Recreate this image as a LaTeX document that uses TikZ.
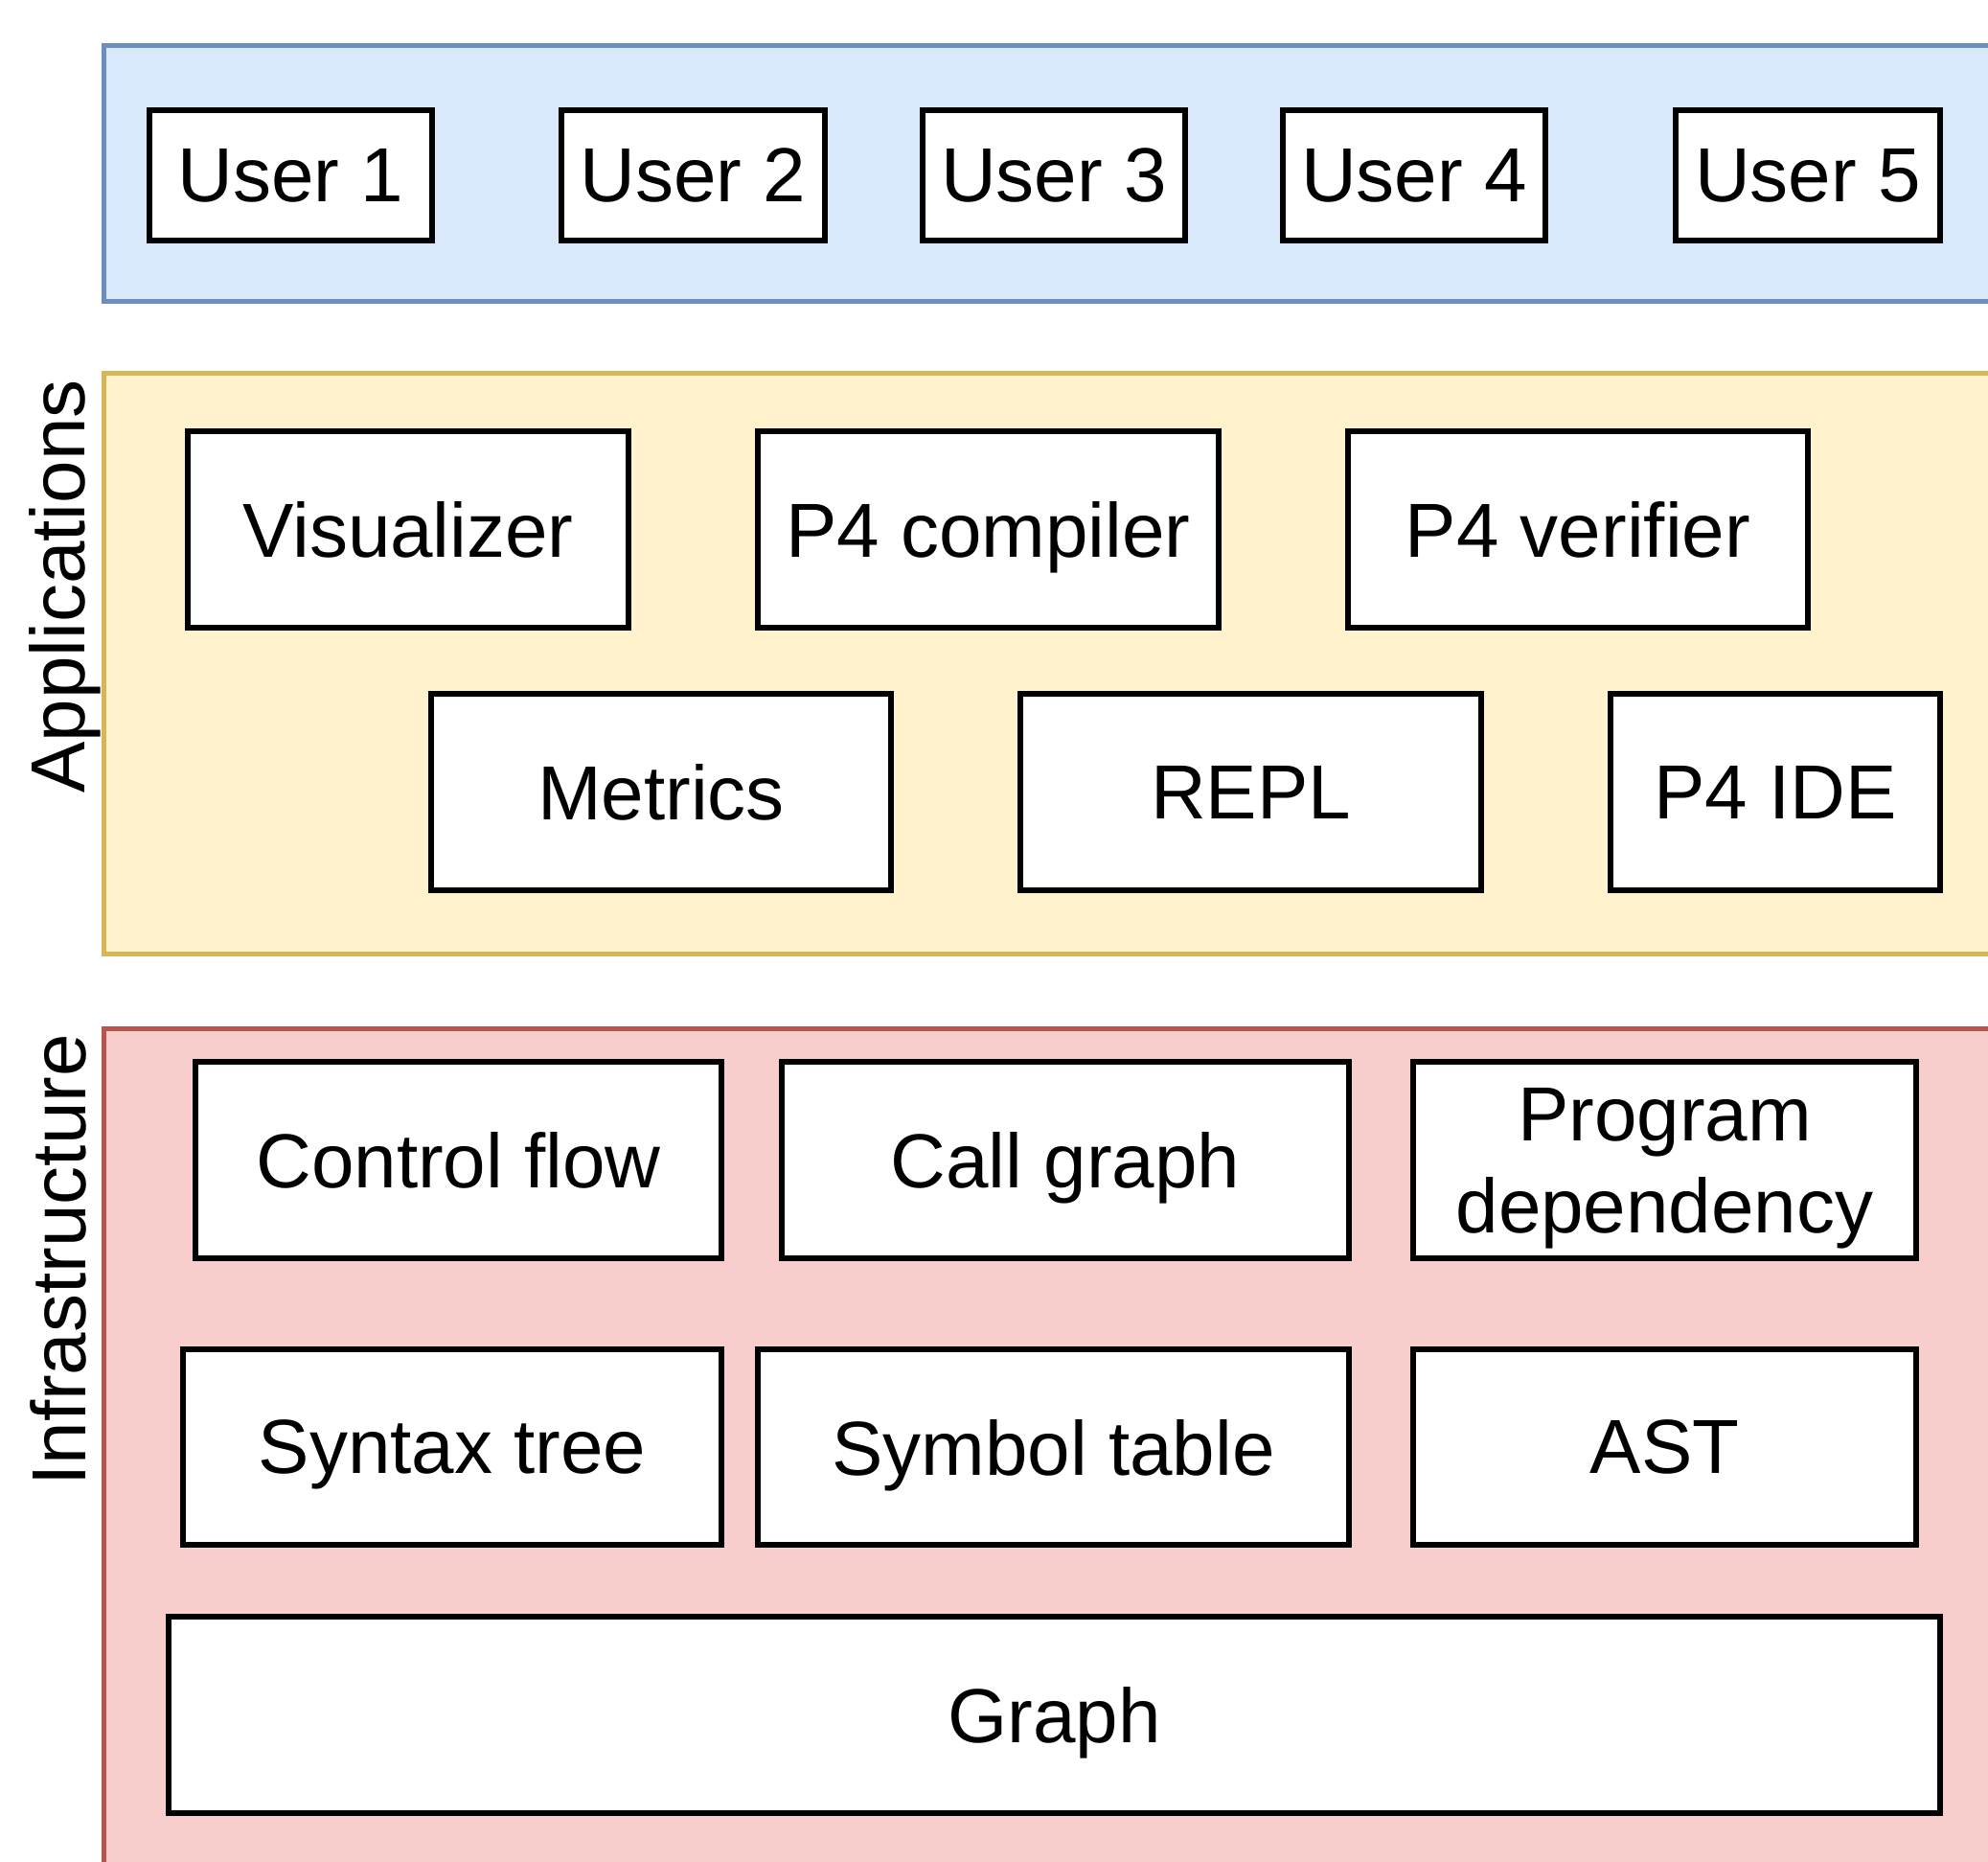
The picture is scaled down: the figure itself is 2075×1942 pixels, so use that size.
\documentclass[tikz,border=0pt]{standalone}
\usepackage{fontspec}
\setmainfont{Liberation Sans}
\definecolor{bluefill}{HTML}{DAE8FC}
\definecolor{bluedraw}{HTML}{6C8EBF}
\definecolor{yelfill}{HTML}{FFF2CC}
\definecolor{yeldraw}{HTML}{D6B656}
\definecolor{redfill}{HTML}{F8CECC}
\definecolor{reddraw}{HTML}{B85450}
\tikzset{
  layerbox/.style={line width=2.5pt},
  itembox/.style={draw=black, fill=white, line width=3pt, inner sep=0pt, outer sep=0pt, align=center,
    text depth=0pt, font=\fontsize{40}{48}\selectfont},
  sidelabel/.style={rotate=90, font=\fontsize{40}{48}\selectfont, inner sep=0pt, text depth=0pt}
}
% \itm{name}{x1}{y1}{x2}{y2}{text}
\newcommand\itm[6]{%
  \node[itembox, minimum width={(#4-#2)*0.5pt}, minimum height={(#5-#3)*0.5pt}]
    (#1) at ({(#2+#4)/2},{(#3+#5)/2}) {#6};}
\begin{document}
\begin{tikzpicture}[x=0.5pt,y=-0.5pt]
\path[use as bounding box, clip] (0,0) rectangle (2075,1942);
\fill[white] (0,0) rectangle (2075,1942);
% layers
\draw[layerbox, draw=bluedraw, fill=bluefill] (108,48) rectangle (2110,314);
\draw[layerbox, draw=yeldraw, fill=yelfill] (108,389) rectangle (2110,995);
\draw[layerbox, draw=reddraw, fill=redfill] (108,1073) rectangle (2110,1990);
% side labels
\node[sidelabel] (lapp) at (60,612) {Applications};
\node[sidelabel] (linf) at (61,1315) {Infrastructure};
% users
\itm{u1}{156}{115}{451}{251}{User 1}
\itm{u2}{586}{115}{861}{251}{User 2}
\itm{u3}{963}{115}{1237}{251}{User 3}
\itm{u4}{1339}{115}{1613}{251}{User 4}
\itm{u5}{1749}{115}{2025}{251}{User 5}
% applications
\itm{vis}{196}{450}{656}{655}{Visualizer}
\itm{comp}{791}{450}{1272}{655}{P4 compiler}
\itm{ver}{1407}{450}{1887}{655}{P4 verifier}
\itm{met}{450}{724}{930}{929}{Metrics}
\itm{repl}{1065}{724}{1546}{929}{REPL}
\itm{ide}{1681}{724}{2025}{929}{P4 IDE}
% infrastructure
\itm{cf}{204}{1108}{753}{1313}{Control flow}
\itm{cg}{816}{1108}{1408}{1313}{Call graph}
\itm{pd}{1475}{1108}{2000}{1313}{Program\\dependency}
\itm{st}{191}{1408}{753}{1612}{Syntax tree}
\itm{sym}{791}{1408}{1408}{1612}{Symbol table}
\itm{ast}{1475}{1408}{2000}{1612}{AST}
\itm{gr}{176}{1687}{2025}{1892}{Graph}
\end{tikzpicture}
\end{document}
